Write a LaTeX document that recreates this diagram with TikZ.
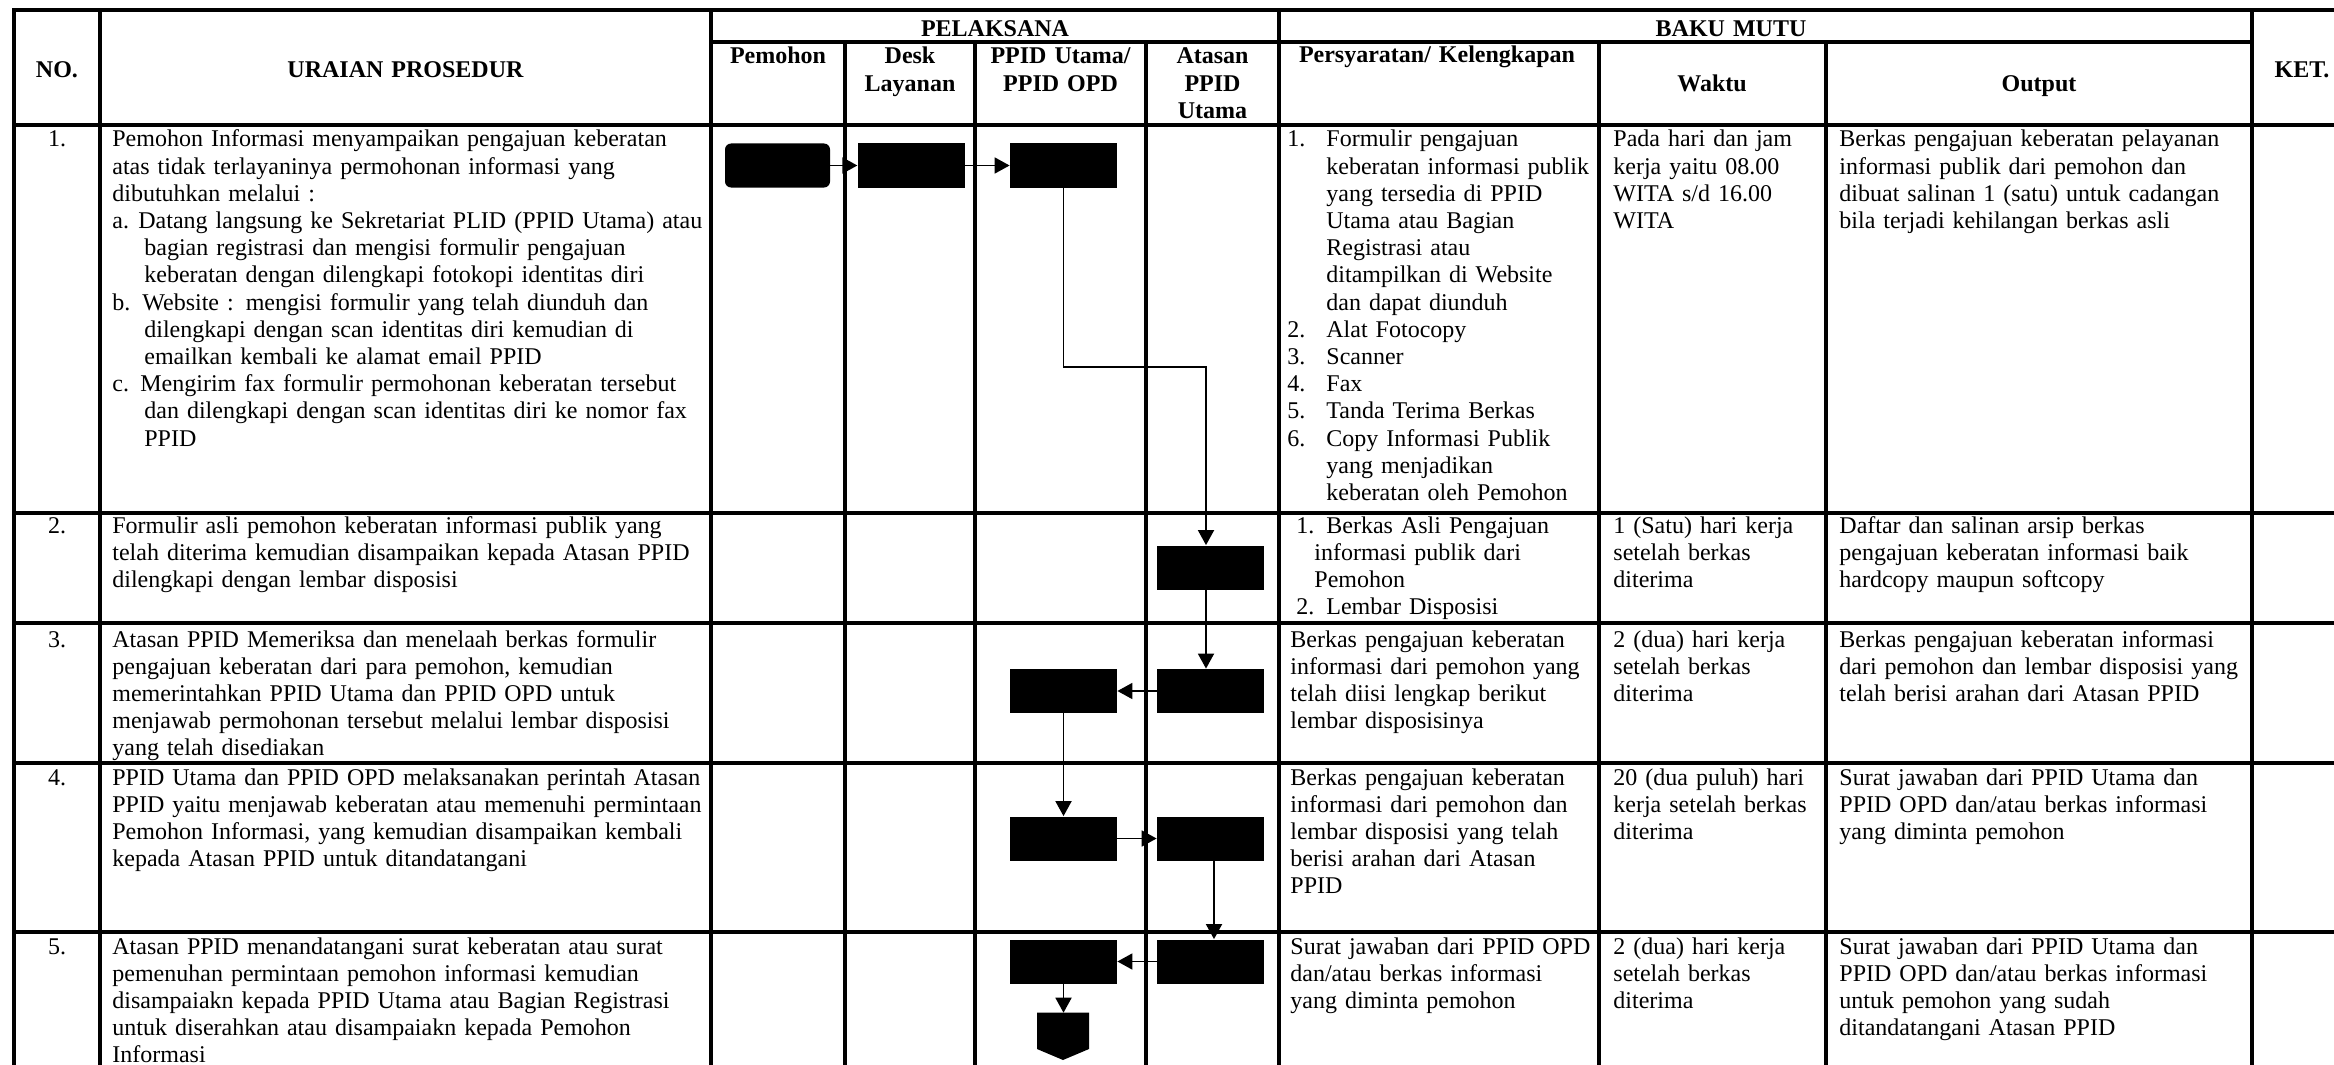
\documentclass[tikz,border=0pt]{standalone}
\usepackage{fontspec}
\setmainfont{Liberation Serif}
\usetikzlibrary{arrows.meta}
\newcommand{\myfs}{\fontsize{12pt}{13.6pt}\selectfont}
\begin{document}
\begin{tikzpicture}[x=0.5pt,y=-0.5pt,
  tl/.style={line width=1.6pt, line cap=rect},
  blk/.style={fill=black, draw=none, minimum width=53.5pt, minimum height=22pt, inner sep=0pt},
  conn/.style={line width=0.9pt, -{Triangle[width=8pt,length=7.5pt]}},
  txt/.style={anchor=base west, inner sep=0pt, align=left, text width=330pt, font=\myfs},
  hd/.style={anchor=base, inner sep=0pt, align=center, text width=160pt, font=\myfs\bfseries},
  num/.style={anchor=base, inner sep=0pt, font=\myfs}]
\useasboundingbox (0,0) rectangle (2334,1065);
\fill[white] (0,0) rectangle (2334,1065);

% ---------- table grid ----------
\draw[tl] (14,10) -- (2334,10);
\draw[tl] (711,42) -- (2252,42);
\foreach \yy in {125,513,623,763,932} {\draw[tl] (14,\yy) -- (2334,\yy);}
\foreach \xx in {14,100,711,1279,2252} {\draw[tl] (\xx,10) -- (\xx,1065);}
\foreach \xx in {845,975,1146,1599,1826} {\draw[tl] (\xx,42) -- (\xx,1065);}

% ---------- header ----------
\node[hd] (hNo) at (57,78) {NO.};
\node[hd] (hUr) at (405.5,78) {URAIAN PROSEDUR};
\node[hd] (hPel) at (995,37) {PELAKSANA};
\node[hd] (hBaku) at (1731,37) {BAKU MUTU};
\node[hd] (hPem) at (778,64) {Pemohon};
\node[hd] (hDesk) at (910,64) {Desk\\Layanan};
\node[hd] (hPpid) at (1060.5,64) {PPID Utama/\\PPID OPD};
\node[hd] (hAtas) at (1212.5,64) {Atasan\\PPID\\Utama};
\node[hd] (hPers) at (1437,63) {Persyaratan/ Kelengkapan};
\node[hd] (hWaktu) at (1712,92) {Waktu};
\node[hd] (hOut) at (2039,92) {Output};
\node[hd] (hKet) at (2302,78) {KET.};

% ---------- numbers ----------
\node[num] (n1) at (57,147) {1.};
\node[num] (n2) at (57,533) {2.};
\node[num] (n3) at (57,647) {3.};
\node[num] (n4) at (57,785) {4.};
\node[num] (n5) at (57,954) {5.};

% ---------- uraian prosedur ----------
\node[txt] (u1) at (112,147) {Pemohon Informasi menyampaikan pengajuan keberatan\\
atas tidak terlayaninya permohonan informasi yang\\
dibutuhkan melalui :\\
\makebox[13pt][l]{a.}Datang langsung ke Sekretariat PLID (PPID Utama) atau\\
\hspace*{16pt}bagian registrasi dan mengisi formulir pengajuan\\
\hspace*{16pt}keberatan dengan dilengkapi fotokopi identitas diri\\
\makebox[15pt][l]{b.}Website : mengisi formulir yang telah diunduh dan\\
\hspace*{16pt}dilengkapi dengan scan identitas diri kemudian di\\
\hspace*{16pt}emailkan kembali ke alamat email PPID\\
\makebox[14pt][l]{c.}Mengirim fax formulir permohonan keberatan tersebut\\
\hspace*{16pt}dan dilengkapi dengan scan identitas diri ke nomor fax\\
\hspace*{16pt}PPID};
\node[txt] (u2) at (112,533) {Formulir asli pemohon keberatan informasi publik yang\\
telah diterima kemudian disampaikan kepada Atasan PPID\\
dilengkapi dengan lembar disposisi};
\node[txt] (u3) at (112,647) {Atasan PPID Memeriksa dan menelaah berkas formulir\\
pengajuan keberatan dari para pemohon, kemudian\\
memerintahkan PPID Utama dan PPID OPD untuk\\
menjawab permohonan tersebut melalui lembar disposisi\\
yang telah disediakan};
\node[txt] (u4) at (112,785) {PPID Utama dan PPID OPD melaksanakan perintah Atasan\\
PPID yaitu menjawab keberatan atau memenuhi permintaan\\
Pemohon Informasi, yang kemudian disampaikan kembali\\
kepada Atasan PPID untuk ditandatangani};
\node[txt] (u5) at (112,954) {Atasan PPID menandatangani surat keberatan atau surat\\
pemenuhan permintaan pemohon informasi kemudian\\
disampaiakn kepada PPID Utama atau Bagian Registrasi\\
untuk diserahkan atau disampaiakn kepada Pemohon\\
Informasi};

% ---------- persyaratan ----------
\node[txt, text width=160pt] (p1) at (1287,147) {\makebox[19.5pt][l]{1.}Formulir pengajuan\\
\hspace*{19.5pt}keberatan informasi publik\\
\hspace*{19.5pt}yang tersedia di PPID\\
\hspace*{19.5pt}Utama atau Bagian\\
\hspace*{19.5pt}Registrasi atau\\
\hspace*{19.5pt}ditampilkan di Website\\
\hspace*{19.5pt}dan dapat diunduh\\
\makebox[19.5pt][l]{2.}Alat Fotocopy\\
\makebox[19.5pt][l]{3.}Scanner\\
\makebox[19.5pt][l]{4.}Fax\\
\makebox[19.5pt][l]{5.}Tanda Terima Berkas\\
\makebox[19.5pt][l]{6.}Copy Informasi Publik\\
\hspace*{19.5pt}yang menjadikan\\
\hspace*{19.5pt}keberatan oleh Pemohon};
\node[txt, text width=160pt] (p2) at (1296,533) {1. Berkas Asli Pengajuan\\
\hspace*{9pt}informasi publik dari\\
\hspace*{9pt}Pemohon\\
2. Lembar Disposisi};
\node[txt, text width=160pt] (p3) at (1290,647) {Berkas pengajuan keberatan\\
informasi dari pemohon yang\\
telah diisi lengkap berikut\\
lembar disposisinya};
\node[txt, text width=160pt] (p4) at (1290,785) {Berkas pengajuan keberatan\\
informasi dari pemohon dan\\
lembar disposisi yang telah\\
berisi arahan dari Atasan\\
PPID};
\node[txt, text width=160pt] (p5) at (1290,954) {Surat jawaban dari PPID OPD\\
dan/atau berkas informasi\\
yang diminta pemohon};

% ---------- waktu ----------
\node[txt, text width=110pt] (w1) at (1613,147) {Pada hari dan jam\\kerja yaitu 08.00\\WITA s/d 16.00\\WITA};
\node[txt, text width=110pt] (w2) at (1613,533) {1 (Satu) hari kerja\\setelah berkas\\diterima};
\node[txt, text width=110pt] (w3) at (1613,647) {2 (dua) hari kerja\\setelah berkas\\diterima};
\node[txt, text width=110pt] (w4) at (1613,785) {20 (dua puluh) hari\\kerja setelah berkas\\diterima};
\node[txt, text width=110pt] (w5) at (1613,954) {2 (dua) hari kerja\\setelah berkas\\diterima};

% ---------- output ----------
\node[txt, text width=210pt] (o1) at (1839,147) {Berkas pengajuan keberatan pelayanan\\informasi publik dari pemohon dan\\dibuat salinan 1 (satu) untuk cadangan\\bila terjadi kehilangan berkas asli};
\node[txt, text width=210pt] (o2) at (1839,533) {Daftar dan salinan arsip berkas\\pengajuan keberatan informasi baik\\hardcopy maupun softcopy};
\node[txt, text width=210pt] (o3) at (1839,647) {Berkas pengajuan keberatan informasi\\dari pemohon dan lembar disposisi yang\\telah berisi arahan dari Atasan PPID};
\node[txt, text width=210pt] (o4) at (1839,785) {Surat jawaban dari PPID Utama dan\\PPID OPD dan/atau berkas informasi\\yang diminta pemohon};
\node[txt, text width=210pt] (o5) at (1839,954) {Surat jawaban dari PPID Utama dan\\PPID OPD dan/atau berkas informasi\\untuk pemohon yang sudah\\ditandatangani Atasan PPID};

% ---------- flow shapes ----------
\node[blk, rounded corners=3pt, minimum width=52.5pt] (b1p) at (777.5,165.5) {};
\node[blk] (b1d) at (911.25,165.5) {};
\node[blk] (b1u) at (1063.5,165.5) {};
\node[blk] (b2a) at (1210.5,567.5) {};
\node[blk] (b3a) at (1210.5,691) {};
\node[blk] (b3u) at (1063.5,691) {};
\node[blk] (b4u) at (1063.5,838.5) {};
\node[blk] (b4a) at (1210.5,838.5) {};
\node[blk] (b5a) at (1210.5,961.5) {};
\node[blk] (b5u) at (1063.5,961.5) {};
\fill (1037,1012.7) -- (1089,1012.7) -- (1089,1049) -- (1063,1060) -- (1037,1049) -- cycle;
\coordinate (off) at (1063.5,1012.7);
\coordinate (e1) at (1206,366.7);
\coordinate (e2) at (1214,0);

% ---------- connectors ----------
\draw[conn] (b1p) -- (b1d);
\draw[conn] (b1d) -- (b1u);
\draw[conn] (b1u.south) |- (e1) -- (e1 |- b2a.north);
\draw[conn] (b2a.south -| e1) -- (b3a.north -| e1);
\draw[conn] (b3a) -- (b3u);
\draw[conn] (b3u) -- (b4u);
\draw[conn] (b4u) -- (b4a);
\draw[conn] (b4a.south -| e2) -- (b5a.north -| e2);
\draw[conn] (b5a) -- (b5u);
\draw[conn] (b5u.south) -- (off);
\end{tikzpicture}
\end{document}
